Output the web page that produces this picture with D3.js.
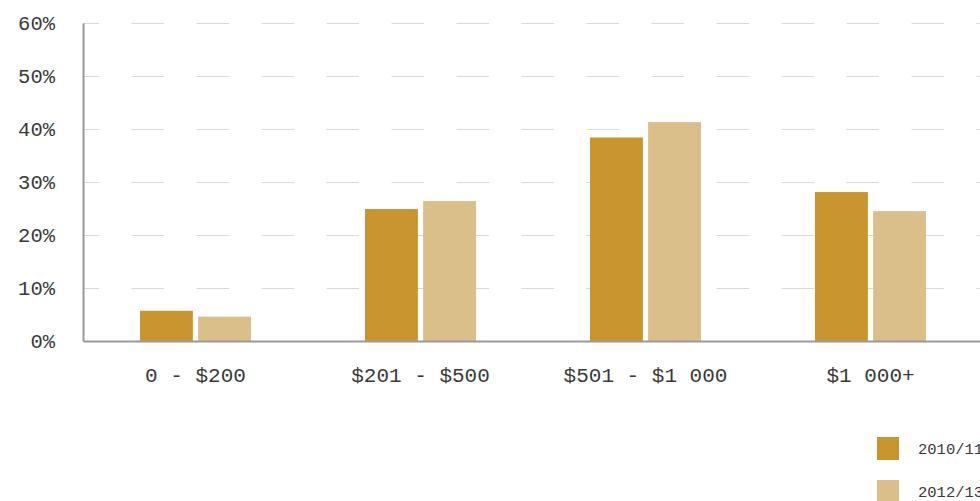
<!DOCTYPE html>
<html>
<head>
<meta charset="utf-8">
<script src="https://cdn.jsdelivr.net/npm/d3@7"></script>
<style>
  html, body { margin: 0; padding: 0; background: #fff; }
  svg { display: block; font-family: "Liberation Mono", "DejaVu Sans Mono", monospace; }
</style>
</head>
<body>
<svg id="chart" width="980" height="501"></svg>
<script>
// Spend brackets and the share of respondents in each, per survey period
const categories = ["0 - $200", "$201 - $500", "$501 - $1 000", "$1 000+"];
const seriesNames = ["2010/11", "2012/13"];
const values2010 = [0.057, 0.249, 0.384, 0.281];
const values2012 = [0.046, 0.264, 0.413, 0.245];
const yTicks = [0, 0.1, 0.2, 0.3, 0.4, 0.5, 0.6];
const colors = ["#c9952f", "#dbbf8b"];

const svg = d3.select("#chart");
const W = 980;
const plotLeft = 83, plotTop = 23, plotBottom = 341, plotRight = 983;
const textColor = "#3a3a3a";

const x0 = d3.scaleBand().domain(categories).range([plotLeft, plotRight]).padding(0);
const groupWidth = 111;
const x1 = d3.scaleBand().domain(seriesNames).range([0, groupWidth]).paddingInner(0.09);
const y = d3.scaleLinear().domain([0, 0.6]).range([plotBottom, plotTop]);
const color = d3.scaleOrdinal().domain(seriesNames).range(colors);

// Dashed horizontal gridlines
const grid = svg.append("g")
  .attr("transform", `translate(${plotLeft},0)`)
  .call(d3.axisLeft(y).tickValues(yTicks.filter(d => d > 0)).tickSize(-(W - plotLeft)).tickFormat(""));
grid.select(".domain").remove();
grid.selectAll(".tick line")
  .attr("stroke", "#d9d9d9")
  .attr("stroke-width", 1)
  .attr("stroke-dasharray", "32.5 32.5")
  .attr("stroke-dashoffset", 16.5);

// Bars
const rows = categories.map((c, i) => ({ cat: c, vals: [values2010[i], values2012[i]] }));
const groups = svg.append("g").selectAll("g")
  .data(rows).join("g")
  .attr("transform", d => `translate(${x0(d.cat) + (x0.bandwidth() - groupWidth) / 2},0)`);
groups.selectAll("rect")
  .data(d => d.vals.map((v, i) => ({ key: seriesNames[i], v })))
  .join("rect")
  .attr("x", d => x1(d.key))
  .attr("y", d => y(d.v))
  .attr("width", x1.bandwidth())
  .attr("height", d => y(0) - y(d.v))
  .attr("fill", d => color(d.key));

// Y axis
const yAxis = svg.append("g")
  .attr("transform", `translate(${plotLeft},0)`)
  .call(d3.axisLeft(y).tickValues(yTicks).tickFormat(d3.format(".0%")).tickSize(0).tickSizeOuter(0).tickPadding(28));
yAxis.select(".domain").attr("stroke", "#999").attr("stroke-width", 2);
yAxis.selectAll(".tick text")
  .attr("font-size", 20.5)
  .attr("fill", textColor)
  .attr("font-family", "Liberation Mono, DejaVu Sans Mono, monospace");

// X axis
const xAxis = svg.append("g")
  .attr("transform", `translate(0,${plotBottom})`)
  .call(d3.axisBottom(x0).tickSize(0).tickSizeOuter(0).tickPadding(26));
xAxis.select(".domain").attr("stroke", "#999").attr("stroke-width", 2);
xAxis.selectAll(".tick text")
  .attr("font-size", 21)
  .attr("fill", textColor)
  .attr("font-family", "Liberation Mono, DejaVu Sans Mono, monospace");

// Legend
const legend = svg.append("g").attr("transform", "translate(877,437)");
const items = legend.selectAll("g").data(seriesNames).join("g")
  .attr("transform", (d, i) => `translate(0,${i * 43})`);
items.append("rect").attr("width", 22).attr("height", 23).attr("fill", d => color(d));
items.append("text")
  .attr("x", 41).attr("y", 17)
  .attr("font-size", 15.5)
  .attr("fill", textColor)
  .text(d => d);
</script>
</body>
</html>
